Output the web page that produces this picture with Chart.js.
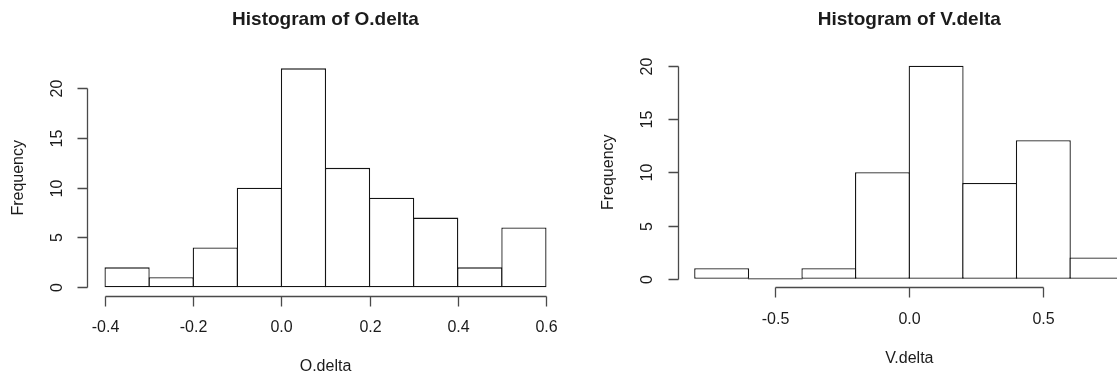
<!DOCTYPE html>
<html>
<head>
<meta charset="utf-8">
<script src="https://cdn.jsdelivr.net/npm/chart.js@4"></script>
<style>
html, body { margin: 0; padding: 0; background: #fff; overflow: hidden; width: 1117px; height: 381px; }
canvas { position: absolute; top: 0; }
#left { left: 0; }
#right { left: 570px; }
</style>
</head>
<body>
<canvas id="left" width="570" height="381"></canvas>
<canvas id="right" width="600" height="381"></canvas>
<script>
"use strict";

// O.delta histogram
const oBreaks = [-0.4, -0.3, -0.2, -0.1, 0.0, 0.1, 0.2, 0.3, 0.4, 0.5, 0.6];
const oCounts = [2, 1, 4, 10, 22, 12, 9, 7, 2, 6];
const oTicksX = [-0.4, -0.2, 0.0, 0.2, 0.4, 0.6];
const oTicksY = [0, 5, 10, 15, 20];

// V.delta histogram (last bin runs off the right edge of the picture)
const vBreaks = [-0.8, -0.6, -0.4, -0.2, 0.0, 0.2, 0.4, 0.6, 0.8];
const vCounts = [1, 0, 1, 10, 20, 9, 13, 2];
const vTicksX = [-0.5, 0.0, 0.5];
const vTicksY = [0, 5, 10, 15, 20];

const FONT = "'Liberation Sans', Arial, Helvetica, sans-serif";
const TEXT = "#1b1b1b";
const AXIS = "#4a4a4a";
const BAR = "#141414";

// R style detached axes, drawn from the chart's own scales
const rAxes = {
    id: "rAxes",
    afterDraw (chart, args, o) {
        const {ctx, chartArea: a, scales: {x, y}} = chart;
        const fmtX = v => v.toFixed(1);

        ctx.save();
        ctx.strokeStyle = AXIS;
        ctx.lineWidth = 1.3;
        ctx.fillStyle = TEXT;

        // x axis
        const xs = o.ticksX.map(v => Math.round(x.getPixelForValue(v)) + 0.5);
        const yb = Math.round(a.bottom) + 0.5;
        ctx.beginPath();
        ctx.moveTo(xs[0], yb);
        ctx.lineTo(xs[xs.length - 1], yb);
        xs.forEach(px => {
            ctx.moveTo(px, yb);
            ctx.lineTo(px, yb + 10);
        });
        ctx.stroke();

        ctx.font = "16px " + FONT;
        ctx.textAlign = "center";
        ctx.textBaseline = "middle";
        o.ticksX.forEach((v, i) => ctx.fillText(fmtX(v), xs[i], a.bottom + 32));
        ctx.fillText(o.xlabel, (a.left + a.right) / 2, a.bottom + 71);

        // y axis
        const ys = o.ticksY.map(v => Math.round(y.getPixelForValue(v)) + 0.5);
        const xl = Math.round(a.left) + 0.5;
        ctx.beginPath();
        ctx.moveTo(xl, ys[0]);
        ctx.lineTo(xl, ys[ys.length - 1]);
        ys.forEach(py => {
            ctx.moveTo(xl, py);
            ctx.lineTo(xl - 10, py);
        });
        ctx.stroke();

        o.ticksY.forEach((v, i) => {
            ctx.save();
            ctx.translate(a.left - 30, ys[i]);
            ctx.rotate(-Math.PI / 2);
            ctx.fillText(String(v), 0, 0);
            ctx.restore();
        });
        ctx.save();
        ctx.translate(a.left - 69, (a.top + a.bottom) / 2);
        ctx.rotate(-Math.PI / 2);
        ctx.fillText("Frequency", 0, 0);
        ctx.restore();

        // main title
        ctx.font = "bold 19px " + FONT;
        ctx.textBaseline = "alphabetic";
        ctx.fillText(o.title, (a.left + a.right) / 2, 25);

        ctx.restore();
    }
};

function histogram (id, breaks, counts, ticksX, ticksY, title, xlabel, padding) {
    const span = breaks[breaks.length - 1] - breaks[0];
    const top = Math.max(...counts);

    return new Chart(document.getElementById(id), {
        type: "bar",
        data: {
            datasets: [{
                data: counts.map((c, i) => ({x: (breaks[i] + breaks[i + 1]) / 2, y: c})),
                backgroundColor: "#ffffff",
                borderColor: BAR,
                borderWidth: 1.3,
                borderSkipped: false,
                barPercentage: 1.025,
                categoryPercentage: 1,
                minBarLength: 1.3
            }]
        },
        options: {
            responsive: false,
            animation: false,
            devicePixelRatio: 1,
            layout: {padding},
            scales: {
                x: {
                    type: "linear",
                    display: false,
                    offset: false,
                    grid: {offset: false},
                    min: breaks[0] - 0.04 * span,
                    max: breaks[breaks.length - 1] + 0.04 * span
                },
                y: {
                    type: "linear",
                    display: false,
                    min: -0.04 * top,
                    max: top * 1.04
                }
            },
            plugins: {
                legend: {display: false},
                tooltip: {enabled: false},
                rAxes: {ticksX, ticksY, title, xlabel}
            }
        },
        plugins: [rAxes]
    });
}

histogram("left", oBreaks, oCounts, oTicksX, oTicksY, "Histogram of O.delta", "O.delta",
    {left: 87.4, right: 6.4, top: 59.6, bottom: 85});
histogram("right", vBreaks, vCounts, vTicksX, vTicksY, "Histogram of V.delta", "V.delta",
    {left: 107.7, right: 29.1, top: 57.2, bottom: 93.7});
</script>
</body>
</html>
